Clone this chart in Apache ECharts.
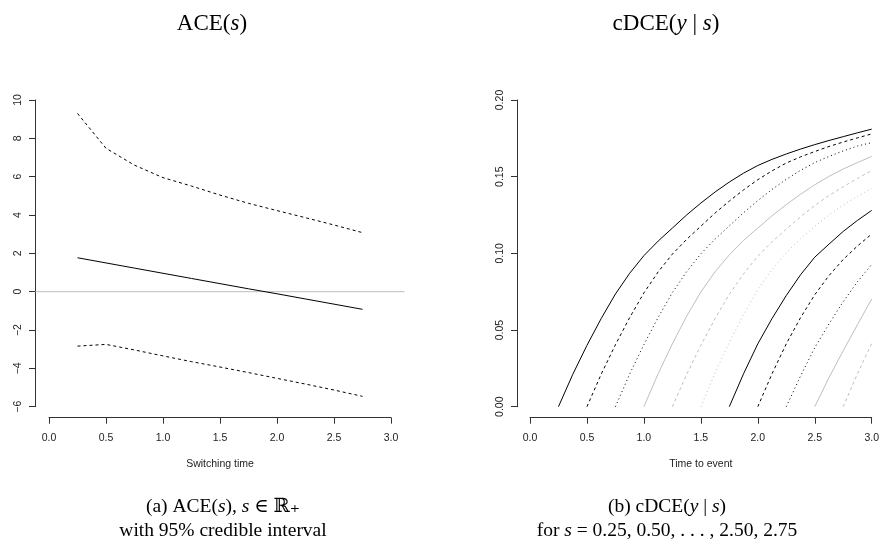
<!DOCTYPE html>
<html>
<head>
<meta charset="utf-8">
<script src="https://cdn.jsdelivr.net/npm/echarts@6/dist/echarts.min.js"></script>
<style>
  html, body { margin: 0; padding: 0; background: #fff; }
  #chart { width: 882px; height: 556px; }
</style>
</head>
<body>
<div id="chart"></div>
<script>
// Switching times s at which the effects are evaluated
const switchTimes = [0.25, 0.50, 0.75, 1.00, 1.25, 1.50, 1.75, 2.00, 2.25, 2.50, 2.75];

// ACE(s): posterior mean and 95% credible bounds
const aceMean  = [1.77, 1.50, 1.23, 0.96, 0.69, 0.42, 0.15, -0.11, -0.38, -0.65, -0.92];
const aceUpper = [9.30, 7.48, 6.60, 5.95, 5.51, 5.04, 4.61, 4.23, 3.86, 3.48, 3.08];
const aceLower = [-2.84, -2.75, -3.04, -3.35, -3.65, -3.93, -4.22, -4.52, -4.82, -5.13, -5.46];

// Time-to-event grid (step 0.125) shared by the cDCE curves
const eventTimes = [0.000, 0.125, 0.250, 0.375, 0.500, 0.625, 0.750, 0.875, 1.000,
                    1.125, 1.250, 1.375, 1.500, 1.625, 1.750, 1.875, 2.000,
                    2.125, 2.250, 2.375, 2.500, 2.625, 2.750, 2.875, 3.000];

// cDCE(y | s), each curve starting at y = s and running to y = 3
const cdceS025 = [0, .0210, .0400, .0575, .0735, .0870, .0985, .1080, .1165, .1250, .1328, .1400,
                  .1465, .1523, .1573, .1613, .1648, .1680, .1709, .1736, .1761, .1786, .1810];
const cdceS050 = [0, .0212, .0404, .0581, .0742, .0879, .0995, .1091, .1177, .1263, .1341, .1414,
                  .1480, .1538, .1589, .1629, .1664, .1697, .1726, .1753, .1779];
const cdceS075 = [0, .0213, .0405, .0582, .0744, .0880, .0997, .1093, .1179, .1265, .1344, .1417,
                  .1483, .1541, .1592, .1632, .1668, .1700, .1722];
const cdceS100 = [0, .0215, .0410, .0590, .0748, .0880, .0990, .1085, .1165, .1245, .1318, .1385,
                  .1447, .1502, .1550, .1592, .1632];
const cdceS125 = [0, .0210, .0400, .0575, .0733, .0866, .0982, .1075, .1158, .1238, .1312, .1377,
                  .1434, .1489, .1540];
const cdceS150 = [0, .0220, .0420, .0600, .0765, .0895, .1005, .1095, .1175, .1250, .1316, .1372, .1424];
const cdceS175 = [0, .0215, .0410, .0575, .0725, .0860, .0975, .1060, .1143, .1215, .1280];
const cdceS200 = [0, .0215, .0410, .0580, .0730, .0855, .0960, .1048, .1126];
const cdceS225 = [0, .0200, .0385, .0540, .0685, .0815, .0928];
const cdceS250 = [0, .0190, .0365, .0535, .0702];
const cdceS275 = [0, .0215, .0413];
const cdceCurves = [cdceS025, cdceS050, cdceS075, cdceS100, cdceS125, cdceS150,
                    cdceS175, cdceS200, cdceS225, cdceS250, cdceS275];

// Axis ticks
const xTicks = { min: 0, max: 3, step: 0.5 };
const aceTicks = { min: -6, max: 10, step: 2 };
const cdceTicks = { min: 0, max: 0.2, step: 0.05 };

const BLACK = '#000000';
const GREY = '#bebebe';
const AXIS = '#333333';
const TICK_FONT = '"Liberation Sans", Arial, Helvetica, sans-serif';
const SERIF = '"Liberation Serif", "DejaVu Serif", "Times New Roman", serif';

// line types cycle: solid, dashed, dotted; colour alternates black / grey every three curves
const lineTypes = ['solid', [3, 3], [1, 3]];
function curveStyle(k) {
  return {
    color: Math.floor(k / 3) % 2 === 0 ? BLACK : GREY,
    width: 1,
    type: lineTypes[k % 3]
  };
}

const minus = v => String(v).replace('-', '\u2212');

function xAxisFor(gridIndex, label) {
  return {
    gridIndex, type: 'value',
    min: xTicks.min, max: xTicks.max, interval: xTicks.step,
    offset: 11,
    axisLine: { show: true, onZero: false, lineStyle: { color: AXIS, width: 1 } },
    axisTick: { show: true, length: 6, lineStyle: { color: AXIS, width: 1 } },
    axisLabel: { formatter: v => v.toFixed(1), fontSize: 10.5, color: '#222', margin: 15, fontFamily: TICK_FONT },
    splitLine: { show: false },
    name: label, nameLocation: 'middle', nameGap: 41,
    nameTextStyle: { fontSize: 10.5, color: '#222', fontFamily: TICK_FONT }
  };
}

function yAxisFor(gridIndex, ticks, offset, fmt) {
  return {
    gridIndex, type: 'value',
    min: ticks.min, max: ticks.max, interval: ticks.step,
    offset,
    axisLine: { show: true, onZero: false, lineStyle: { color: AXIS, width: 1 } },
    axisTick: { show: true, length: 6, lineStyle: { color: AXIS, width: 1 } },
    axisLabel: { formatter: fmt, fontSize: 10.5, color: '#222', margin: 11, rotate: 90, fontFamily: TICK_FONT },
    splitLine: { show: false }
  };
}

const hiddenAxis = (gridIndex, min, max) => ({
  gridIndex, type: 'value', min, max, show: false,
  axisLine: { show: false }, axisTick: { show: false }, axisLabel: { show: false }, splitLine: { show: false }
});

const lineSeries = (xi, yi, data, style, extra) => Object.assign({
  type: 'line', xAxisIndex: xi, yAxisIndex: yi, data,
  symbol: 'none', lineStyle: style, silent: true, animation: false
}, extra || {});

// the whole plotting region extends 4% past the tick range on each side
const pad = 0.04 * (xTicks.max - xTicks.min);
const regionMin = xTicks.min - pad, regionMax = xTicks.max + pad;
const zeroLine = [[regionMin, 0], [regionMax, 0]];

const series = [
  lineSeries(2, 2, zeroLine, { color: GREY, width: 1 }, { z: 1 }),
  lineSeries(0, 0, switchTimes.map((s, i) => [s, aceUpper[i]]), { color: BLACK, width: 1, type: [3, 3] }),
  lineSeries(0, 0, switchTimes.map((s, i) => [s, aceMean[i]]), { color: BLACK, width: 1 }),
  lineSeries(0, 0, switchTimes.map((s, i) => [s, aceLower[i]]), { color: BLACK, width: 1, type: [3, 3] })
];

cdceCurves.forEach((vals, k) => {
  const start = eventTimes.indexOf(switchTimes[k]);
  const data = vals.map((v, j) => [eventTimes[start + j], v]);
  series.push(lineSeries(1, 1, data, curveStyle(k), { z: 20 - k }));
});

const titleStyle = size => ({
  fontFamily: SERIF, fontSize: size, fontWeight: 'normal', color: '#000', lineHeight: 24,
  rich: { i: { fontFamily: SERIF, fontSize: size, fontStyle: 'italic', color: '#000', lineHeight: 24 } }
});

// pixel frame of each panel: tick range of x spans 342 px, y tick range 306.7 px
const frame = { top: 100, height: 306.7, width: 342 };
const leftPanelX = 49, rightPanelX = 530;
const pxPerUnit = frame.width / (xTicks.max - xTicks.min);

const chart = echarts.init(document.getElementById('chart'), null, { renderer: 'canvas' });
chart.setOption({
  backgroundColor: '#ffffff',
  animation: false,
  title: [
    { text: 'ACE({i|s})', left: 207, top: 7, textAlign: 'center', textStyle: titleStyle(23) },
    { text: 'cDCE({i|y} | {i|s})', left: 661, top: 7, textAlign: 'center', textStyle: titleStyle(23) },
    { text: '(a) ACE({i|s}), {i|s} \u2208 \u211D\u208A\nwith 95% credible interval',
      left: 218, top: 490, textAlign: 'center', textStyle: titleStyle(19.5) },
    { text: '(b) cDCE({i|y} | {i|s})\nfor {i|s} = 0.25, 0.50, . . . , 2.50, 2.75',
      left: 662, top: 490, textAlign: 'center', textStyle: titleStyle(19.5) }
  ],
  grid: [
    { left: leftPanelX, top: frame.top, width: frame.width, height: frame.height },
    { left: rightPanelX, top: frame.top, width: frame.width, height: frame.height },
    { left: leftPanelX - pad * pxPerUnit, top: frame.top,
      width: (regionMax - regionMin) * pxPerUnit, height: frame.height }
  ],
  xAxis: [xAxisFor(0, 'Switching time'), xAxisFor(1, 'Time to event'), hiddenAxis(2, regionMin, regionMax)],
  yAxis: [
    yAxisFor(0, aceTicks, 14, v => minus(v)),
    yAxisFor(1, cdceTicks, 13, v => v.toFixed(2)),
    hiddenAxis(2, aceTicks.min, aceTicks.max)
  ],
  series
});
</script>
</body>
</html>
